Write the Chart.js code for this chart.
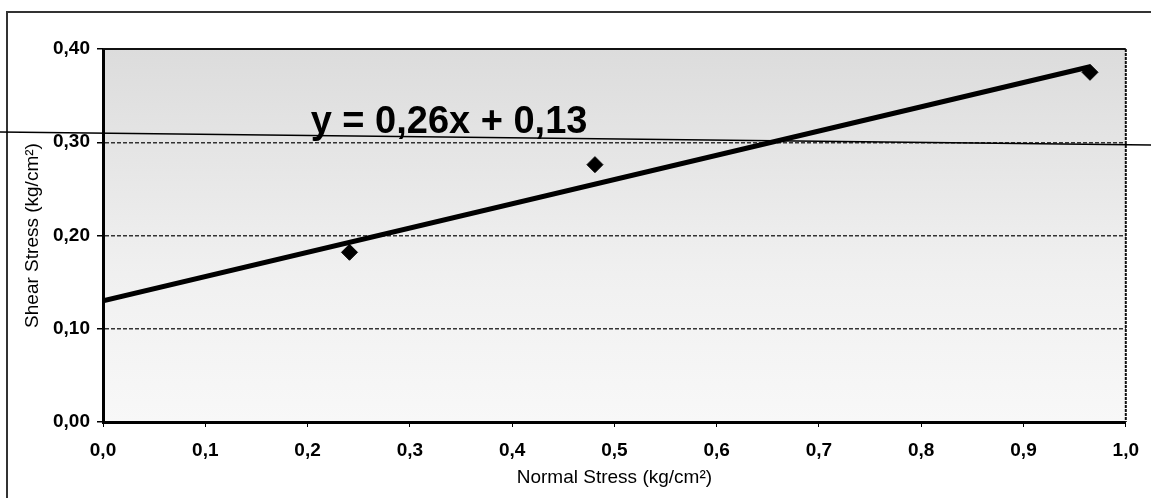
<!DOCTYPE html>
<html lang="en">

<head>
    <meta charset="utf-8">
    <style>
        body { margin: 0; background: #fff; }
    </style>
</head>

<body>
    <div>
        <canvas id="shearChart" width="1151" height="498"></canvas>
    </div>
    <script src="https://cdn.jsdelivr.net/npm/chart.js"></script>
    <script>
        // measured points (normal stress vs shear stress, kg/cm2)
        const normalStress = [0.241, 0.481, 0.965];
        const shearStress = [0.182, 0.276, 0.375];
        // linear trendline end points
        const trendX = [0, 0.965];
        const trendY = [0.13, 0.381];
        const equation = 'y = 0,26x + 0,13';
        const xTickLabels = ['0,0', '0,1', '0,2', '0,3', '0,4', '0,5', '0,6', '0,7', '0,8', '0,9', '1,0'];
        const yTickLabels = ['0,00', '0,10', '0,20', '0,30', '0,40'];

        Chart.defaults.font.family = "'Liberation Sans', Arial, sans-serif";
        Chart.defaults.color = '#000';

        const paper = {
            id: 'paper',
            beforeDraw(chart) {
                const { ctx, chartArea: a } = chart;
                ctx.save();
                const g = ctx.createLinearGradient(0, a.top, 0, a.bottom);
                g.addColorStop(0, '#dcdcdc');
                g.addColorStop(0.3, '#e6e6e6');
                g.addColorStop(0.6, '#f0f0f0');
                g.addColorStop(1, '#f8f8f8');
                ctx.fillStyle = g;
                ctx.fillRect(a.left, a.top, a.right - a.left, a.bottom - a.top);
                ctx.restore();
            },
            afterDatasetsDraw(chart) {
                const { ctx, chartArea: a, scales } = chart;
                ctx.save();
                // frame
                ctx.strokeStyle = '#111';
                ctx.lineWidth = 2;
                ctx.beginPath();
                ctx.moveTo(a.left, a.top);
                ctx.lineTo(a.right, a.top);
                ctx.stroke();
                ctx.setLineDash([3, 1]);
                ctx.beginPath();
                ctx.moveTo(a.right, a.top);
                ctx.lineTo(a.right, a.bottom);
                ctx.stroke();
                ctx.setLineDash([]);
                // outer box of the page
                ctx.strokeStyle = '#333';
                ctx.lineWidth = 2;
                ctx.beginPath();
                ctx.moveTo(7, 498);
                ctx.lineTo(7, 12);
                ctx.lineTo(1151, 12);
                ctx.stroke();
                // scanned ruling line across the sheet
                ctx.strokeStyle = '#000';
                ctx.lineWidth = 1.5;
                ctx.beginPath();
                ctx.moveTo(0, 132);
                ctx.lineTo(1151, 145);
                ctx.stroke();
                // trendline equation
                ctx.font = "bold 38px 'Liberation Sans', Arial, sans-serif";
                ctx.fillStyle = '#000';
                ctx.textBaseline = 'alphabetic';
                ctx.fillText(equation, scales.x.getPixelForValue(0.203), scales.y.getPixelForValue(0.31));
                ctx.restore();
            }
        };

        new Chart(document.getElementById('shearChart'), {
            type: 'scatter',
            data: {
                datasets: [{
                    label: 'Trend',
                    type: 'line',
                    data: trendX.map((x, i) => ({ x: x, y: trendY[i] })),
                    borderColor: '#000',
                    borderWidth: 5,
                    pointRadius: 0,
                    fill: false
                }, {
                    label: 'Data',
                    data: normalStress.map((x, i) => ({ x: x, y: shearStress[i] })),
                    pointStyle: 'rectRot',
                    pointRadius: 8,
                    backgroundColor: '#000',
                    borderColor: '#000'
                }]
            },
            plugins: [paper],
            options: {
                responsive: false,
                animation: false,
                layout: { padding: { left: 7, top: 49, right: 25, bottom: 6 } },
                plugins: {
                    legend: { display: false },
                    tooltip: { enabled: false }
                },
                scales: {
                    x: {
                        type: 'linear',
                        min: 0,
                        max: 1,
                        afterFit(scale) { scale.height = 70; },
                        afterBuildTicks(scale) {
                            scale.ticks = xTickLabels.map((t, i) => ({ value: i / 10 }));
                        },
                        ticks: {
                            padding: 12,
                            font: { size: 19, weight: 'bold' },
                            callback: (v, i) => xTickLabels[i]
                        },
                        grid: { drawOnChartArea: false, tickLength: 5, color: '#000', tickWidth: 1 },
                        border: { color: '#000', width: 3 },
                        title: {
                            display: true,
                            text: 'Normal Stress (kg/cm²)',
                            font: { size: 19 },
                            padding: { top: 0, bottom: 3 }
                        }
                    },
                    y: {
                        type: 'linear',
                        min: 0,
                        max: 0.4,
                        afterFit(scale) { scale.width = 96; },
                        afterBuildTicks(scale) {
                            scale.ticks = yTickLabels.map((t, i) => ({ value: i / 10 }));
                        },
                        ticks: {
                            padding: 7,
                            font: { size: 19, weight: 'bold' },
                            callback: (v, i) => yTickLabels[i]
                        },
                        grid: {
                            tickLength: 6,
                            lineWidth: 1.5,
                            color: (c) => (c.tick && c.tick.value > 0 && c.tick.value < 0.4) ? '#333' : 'rgba(0,0,0,0)',
                            tickColor: '#000',
                            tickBorderDash: []
                        },
                        border: { color: '#000', width: 3, dash: [4, 2] },
                        title: {
                            display: true,
                            text: 'Shear Stress (kg/cm²)',
                            font: { size: 19 },
                            padding: { top: 14, bottom: 0 }
                        }
                    }
                }
            }
        });
    </script>
</body>

</html>
